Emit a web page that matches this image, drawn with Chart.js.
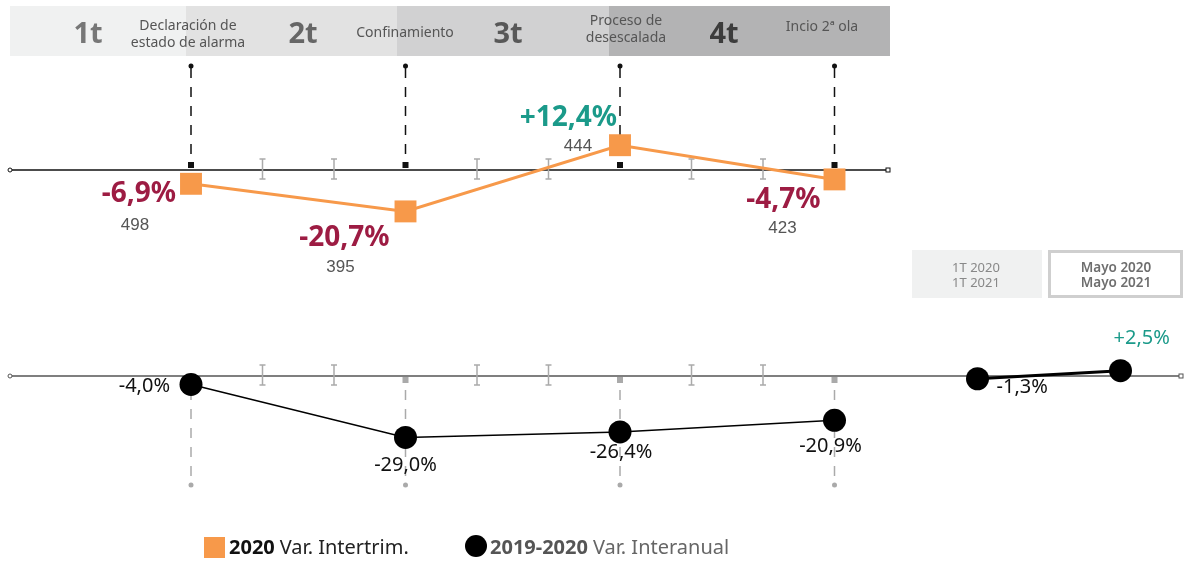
<!DOCTYPE html>
<html>
<head>
<meta charset="utf-8">
<script src="https://cdn.jsdelivr.net/npm/chart.js@4.4.1/dist/chart.umd.min.js"></script>
<style>
html,body{margin:0;padding:0;background:#fff;}
#wrap{position:relative;width:1189px;height:561px;}
</style>
</head>
<body>
<div id="wrap"><canvas id="c"></canvas></div>
<script>
// ---- data ----
const categories = ['1T 2020','Abr','May','2T 2020','Jul','Ago','3T 2020','Oct','Nov','4T 2020','Ene','1T 2021','Abr 2021','Mayo 2021'];
const quarterIdx = [0, 3, 6, 9];
const monthTickIdx = [1, 2, 4, 5, 7, 8];
const varIntertrim = [-6.9, -20.7, 12.4, -4.7];        // 2020 Var. Intertrim. (%)
const tourists = ['498', '395', '444', '423'];
const varInteranual = [-4.0, -29.0, -26.4, -20.9];     // 2019-2020 Var. Interanual (%)
const recentIdx = [11, 13];
const varRecent = [-1.3, 2.5];                          // 1T 2020/1T 2021, Mayo 2020/Mayo 2021
const quarterNames = ['1t', '2t', '3t', '4t'];
const eventLabels = [['Declaración de','estado de alarma'], ['Confinamiento'], ['Proceso de','desescalada'], ['Incio 2ª ola']];
const boxLabels = [['1T 2020','1T 2021'], ['Mayo 2020','Mayo 2021']];

const fmt = v => (v > 0 ? '+' : '') + v.toFixed(1).replace('.', ',') + '%';
function place(idxs, vals) {
  const a = categories.map(() => null);
  idxs.forEach((ix, i) => a[ix] = vals[i]);
  return a;
}

const ORANGE = '#f7994a', CRIMSON = '#9d1c43', TEAL = '#1b9a8a';
const H = 561;
const topZero = 170, topK = 2.0, botZero = 376, botK = 2.12;
const F = '"Noto Sans", "Open Sans", sans-serif';

const deco = {
  id: 'deco',
  beforeDatasetsDraw(chart) {
    const ctx = chart.ctx, x = chart.scales.x, y1 = chart.scales.y1, y2 = chart.scales.y2;
    const z1 = Math.round(y1.getPixelForValue(0)), z2 = Math.round(y2.getPixelForValue(0));
    ctx.save();
    // header bands
    const qx = quarterIdx.map(i => x.getPixelForValue(i));
    const bands = [[10, 186, '#f0f1f1'], [186, 397, '#e2e2e2'], [397, 609, '#d1d1d2'], [609, 890, '#b3b3b4']];
    bands.forEach(b => { ctx.fillStyle = b[2]; ctx.fillRect(b[0], 6, b[1] - b[0], 50); });
    // quarter names
    const qnx = [88, 303, 508, 724], qnc = ['#777', '#666', '#585858', '#3c3c3c'];
    ctx.font = 'bold 29px ' + F; ctx.textAlign = 'center'; ctx.textBaseline = 'alphabetic';
    quarterNames.forEach((t, i) => { ctx.fillStyle = qnc[i]; ctx.fillText(t, qnx[i], 43); });
    // event labels
    ctx.font = '14px ' + F; ctx.fillStyle = '#555'; ctx.textBaseline = 'middle';
    const ex = [188, 405, 626, 822], ey = [[26, 43], [33], [21, 38], [27]];
    eventLabels.forEach((ls, i) => ls.forEach((l, j) => ctx.fillText(l, ex[i], ey[i][j])));
    // top dashed lines
    ctx.strokeStyle = '#111'; ctx.fillStyle = '#111'; ctx.lineWidth = 1.5;
    qx.forEach(px => {
      ctx.setLineDash([10, 9]);
      ctx.beginPath(); ctx.moveTo(px, 68); ctx.lineTo(px, z1 - 7); ctx.stroke();
      ctx.setLineDash([]);
      ctx.beginPath(); ctx.arc(px, 66, 2.5, 0, Math.PI * 2); ctx.fill();
      ctx.fillRect(px - 3, z1 - 8, 6, 6);
    });
    // top axis
    ctx.lineWidth = 1.5; ctx.strokeStyle = '#111';
    ctx.beginPath(); ctx.moveTo(12, z1); ctx.lineTo(886, z1); ctx.stroke();
    ctx.lineWidth = 1;
    ctx.beginPath(); ctx.arc(10, z1, 2, 0, Math.PI * 2); ctx.fillStyle = '#fff'; ctx.fill(); ctx.stroke();
    ctx.fillRect(886, z1 - 2, 4, 4); ctx.strokeRect(886, z1 - 2, 4, 4);
    // bottom dashed lines
    ctx.strokeStyle = '#aaa'; ctx.fillStyle = '#aaa'; ctx.lineWidth = 1.5;
    qx.forEach(px => {
      ctx.setLineDash([10, 9]);
      ctx.beginPath(); ctx.moveTo(px, z2 + 14); ctx.lineTo(px, 482); ctx.stroke();
      ctx.setLineDash([]);
      ctx.beginPath(); ctx.arc(px, 485, 2.5, 0, Math.PI * 2); ctx.fill();
      ctx.fillRect(px - 3, z2 + 1, 6, 6);
    });
    // bottom axis
    ctx.strokeStyle = '#555'; ctx.lineWidth = 1.5;
    ctx.beginPath(); ctx.moveTo(12, z2); ctx.lineTo(1179, z2); ctx.stroke();
    ctx.lineWidth = 1;
    ctx.beginPath(); ctx.arc(10, z2, 2, 0, Math.PI * 2); ctx.fillStyle = '#fff'; ctx.fill(); ctx.stroke();
    ctx.fillRect(1179, z2 - 2, 4, 4); ctx.strokeRect(1179, z2 - 2, 4, 4);
    // month I-ticks
    ctx.strokeStyle = '#aaa'; ctx.lineWidth = 1.5;
    [z1, z2].forEach(z => monthTickIdx.forEach(i => {
      const px = x.getPixelForValue(i);
      ctx.beginPath();
      ctx.moveTo(px, z - 11); ctx.lineTo(px, z + 9);
      ctx.moveTo(px - 3, z - 11); ctx.lineTo(px + 3, z - 11);
      ctx.moveTo(px - 3, z + 9); ctx.lineTo(px + 3, z + 9);
      ctx.stroke();
    }));
    // comparison boxes
    ctx.fillStyle = '#f0f1f1'; ctx.fillRect(912, 250, 130, 48);
    ctx.strokeStyle = '#cfcfcf'; ctx.lineWidth = 3; ctx.strokeRect(1049.5, 251.5, 132, 45);
    ctx.textAlign = 'center'; ctx.textBaseline = 'middle';
    ctx.font = '13px ' + F; ctx.fillStyle = '#888';
    boxLabels[0].forEach((l, j) => ctx.fillText(l, 976, 268 + j * 15));
    ctx.font = '600 13.5px ' + F; ctx.fillStyle = '#6e6e6e';
    boxLabels[1].forEach((l, j) => ctx.fillText(l, 1116, 268 + j * 15));
    ctx.restore();
  },
  afterDatasetsDraw(chart) {
    const ctx = chart.ctx;
    ctx.save();
    ctx.textBaseline = 'middle';
    // top series labels
    const m0 = chart.getDatasetMeta(0).data;
    const pOff = [[-15, 10], [-16, 27], [-3, -27], [-14, 21]];
    const nOff = [[-56, 42], [-65, 56], [-42, 1], [-52, 49]];
    quarterIdx.forEach((ix, i) => {
      const p = m0[ix], v = varIntertrim[i];
      ctx.font = 'bold 28px ' + F; ctx.textAlign = 'right';
      ctx.fillStyle = v > 0 ? TEAL : CRIMSON;
      ctx.fillText(fmt(v), p.x + pOff[i][0], p.y + pOff[i][1]);
      ctx.font = '17px "Liberation Sans", Arial, sans-serif'; ctx.textAlign = 'center'; ctx.fillStyle = '#555';
      ctx.fillText(tourists[i], p.x + nOff[i][0], p.y + nOff[i][1]);
    });
    // bottom series labels
    const m1 = chart.getDatasetMeta(1).data;
    const bOff = [[-21, 2, 'right'], [0, 28, 'center'], [1, 20, 'center'], [-4, 26, 'center']];
    ctx.font = '20px ' + F; ctx.fillStyle = '#111';
    quarterIdx.forEach((ix, i) => {
      const p = m1[ix];
      ctx.textAlign = bOff[i][2];
      ctx.fillText(fmt(varInteranual[i]), p.x + bOff[i][0], p.y + bOff[i][1]);
    });
    const m2 = chart.getDatasetMeta(2).data;
    const rOff = [[19, 9], [-7, -32]];
    recentIdx.forEach((ix, i) => {
      const p = m2[ix], v = varRecent[i];
      ctx.textAlign = 'left'; ctx.fillStyle = v > 0 ? TEAL : '#111';
      ctx.fillText(fmt(v), p.x + rOff[i][0], p.y + rOff[i][1]);
    });
    // legend
    ctx.textAlign = 'left';
    ctx.fillStyle = ORANGE; ctx.fillRect(204, 537, 21, 21);
    ctx.font = 'bold 20px ' + F; ctx.fillStyle = '#111'; ctx.fillText('2020', 229, 548);
    let w = ctx.measureText('2020').width;
    ctx.font = '20px ' + F; ctx.fillStyle = '#222'; ctx.fillText('Var. Intertrim.', 234 + w, 548);
    ctx.fillStyle = '#000'; ctx.beginPath(); ctx.arc(476, 546, 11, 0, Math.PI * 2); ctx.fill();
    ctx.font = 'bold 20px ' + F; ctx.fillStyle = '#555'; ctx.fillText('2019-2020', 490, 548);
    w = ctx.measureText('2019-2020').width;
    ctx.font = '20px ' + F; ctx.fillStyle = '#666'; ctx.fillText('Var. Interanual', 495 + w, 548);
    ctx.restore();
  }
};

new Chart(document.getElementById('c'), {
  type: 'line',
  data: {
    labels: categories,
    datasets: [
      { data: place(quarterIdx, varIntertrim), yAxisID: 'y1', spanGaps: true, clip: false,
        borderColor: ORANGE, borderWidth: 3, pointStyle: 'rect', pointRadius: 15.5,
        pointBackgroundColor: ORANGE, pointBorderWidth: 0, pointHoverRadius: 15.5 },
      { data: place(quarterIdx, varInteranual), yAxisID: 'y2', spanGaps: true, clip: false,
        borderColor: '#000', borderWidth: 1.5, pointStyle: 'circle', pointRadius: 11.5,
        pointBackgroundColor: '#000', pointBorderWidth: 0, pointHoverRadius: 11.5 },
      { data: place(recentIdx, varRecent), yAxisID: 'y2', spanGaps: true, clip: false,
        borderColor: '#000', borderWidth: 3, pointStyle: 'circle', pointRadius: 11.5,
        pointBackgroundColor: '#000', pointBorderWidth: 0, pointHoverRadius: 11.5 }
    ]
  },
  options: {
    responsive: true, maintainAspectRatio: false, animation: false,
    layout: { autoPadding: false, padding: { left: 191, right: 68.5, top: 0, bottom: 0 } },
    plugins: { legend: { display: false }, tooltip: { enabled: false } },
    events: [],
    scales: {
      x: { type: 'category', display: false, offset: false },
      y1: { type: 'linear', display: false, min: -(H - topZero) / topK, max: topZero / topK },
      y2: { type: 'linear', display: false, min: -(H - botZero) / botK, max: botZero / botK }
    }
  },
  plugins: [deco]
});
</script>
</body>
</html>
